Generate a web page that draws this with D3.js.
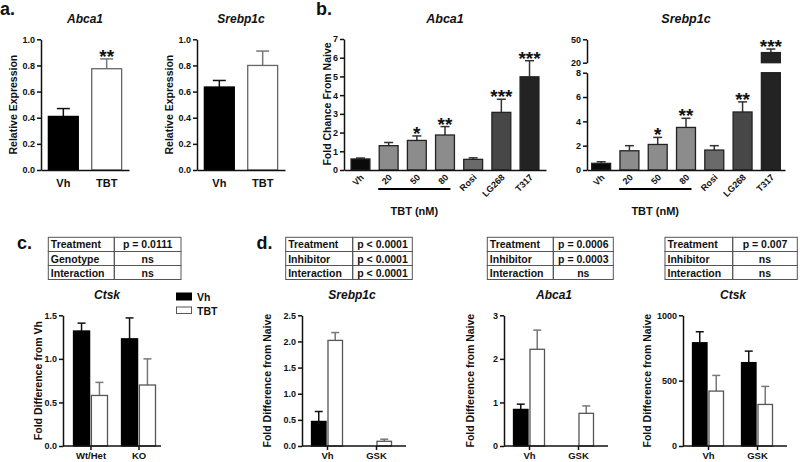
<!DOCTYPE html>
<html><head><meta charset="utf-8">
<script src="https://cdn.jsdelivr.net/npm/d3@7"></script>
<style>
body{margin:0;background:#fff;}
svg{display:block;}
</style></head><body>
<svg id="chart" width="800" height="462"></svg>
<script>
// ---------------- DATA ----------------
// Panel a
const aCategories = ["Vh", "TBT"];
const aTicks = [0, 0.2, 0.4, 0.6, 0.8, 1.0];
const aAbca1Mean = [0.41, 0.775];
const aAbca1Err = [0.06, 0.075];
const aAbca1Sig = ["", "**"];
const aSrebp1cMean = [0.635, 0.80];
const aSrebp1cErr = [0.05, 0.11];
const aSrebp1cSig = ["", ""];

// Panel b
const bCategories = ["Vh", "20", "50", "80", "Rosi", "LG268", "T317"];
const bTBTDoses = ["20", "50", "80"];
const bAbca1Ticks = [0, 1, 2, 3, 4, 5, 6, 7];
const bAbca1Mean = [0.59, 1.30, 1.58, 1.87, 0.57, 3.08, 4.98];
const bAbca1Err = [0.05, 0.17, 0.24, 0.45, 0.08, 0.70, 0.86];
const bAbca1Sig = ["", "", "*", "**", "", "***", "***"];
const bSrebp1cLowTicks = [0, 2, 4, 6, 8];
const bSrebp1cHighTicks = [20, 50];
const bSrebp1cMean = [0.55, 1.58, 2.1, 3.5, 1.64, 4.77, 33];
const bSrebp1cErr = [0.13, 0.42, 0.58, 0.75, 0.36, 0.83, 4.5];
const bSrebp1cSig = ["", "", "*", "**", "", "**", "***"];

// Panel c
const groupSeries = ["Vh", "TBT"];
const cGroups = ["Wt/Het", "KO"];
const cTicks = [0, 0.5, 1.0, 1.5];
const cCtskVh = [1.32, 1.23];
const cCtskVhErr = [0.09, 0.24];
const cCtskTBT = [0.58, 0.70];
const cCtskTBTErr = [0.15, 0.30];
const cStats = [["Treatment", "p = 0.0111"], ["Genotype", "ns"], ["Interaction", "ns"]];

// Panel d
const dGroups = ["Vh", "GSK"];
const dSrebp1cTicks = [0, 0.5, 1.0, 1.5, 2.0, 2.5];
const dSrebp1cVh = [0.47, 0];
const dSrebp1cVhErr = [0.19, 0];
const dSrebp1cTBT = [2.02, 0.09];
const dSrebp1cTBTErr = [0.15, 0.04];
const dSrebp1cStats = [["Treatment", "p < 0.0001"], ["Inhibitor", "p < 0.0001"], ["Interaction", "p < 0.0001"]];
const dAbca1Ticks = [0, 1, 2, 3];
const dAbca1Vh = [0.84, 0];
const dAbca1VhErr = [0.12, 0];
const dAbca1TBT = [2.22, 0.75];
const dAbca1TBTErr = [0.44, 0.17];
const dAbca1Stats = [["Treatment", "p = 0.0006"], ["Inhibitor", "p = 0.0003"], ["Interaction", "ns"]];
const dCtskTicks = [0, 500, 1000];
const dCtskVh = [790, 638];
const dCtskVhErr = [84, 88];
const dCtskTBT = [420, 318];
const dCtskTBTErr = [120, 138];
const dCtskStats = [["Treatment", "p = 0.007"], ["Inhibitor", "ns"], ["Interaction", "ns"]];

// ---------------- DRAWING ----------------
const svg = d3.select("#chart");
const FONT = "'Liberation Sans', Arial, Helvetica, sans-serif";
const AX = "#111";

function txt(x, y, s, size, o = {}) {
  const t = svg.append("text").attr("x", x).attr("y", y).text(s)
    .attr("font-size", size).attr("font-weight", "bold").attr("font-family", FONT)
    .attr("fill", o.fill || "#111").attr("text-anchor", o.anchor || "start");
  if (o.italic) t.attr("font-style", "italic");
  return t;
}
function yLabel(x, y, s) {
  svg.append("text").attr("transform", `translate(${x},${y}) rotate(-90)`).attr("dy", "0.35em")
    .attr("text-anchor", "middle").attr("font-size", 10.5).attr("font-weight", "bold")
    .attr("font-family", FONT).attr("fill", "#111").text(s);
}
function styleAxis(ax, size = 9) {
  ax.selectAll("path, line").attr("stroke", AX).attr("stroke-width", 1.5);
  ax.selectAll("text").attr("font-size", size).attr("font-weight", "bold")
    .attr("fill", "#111").attr("font-family", FONT);
}
function yAxis(x0, y, ticks, fmt) {
  const ax = svg.append("g").attr("transform", `translate(${x0},0)`)
    .call(d3.axisLeft(y).tickValues(ticks).tickFormat(fmt).tickSize(4).tickSizeOuter(0).tickPadding(2));
  styleAxis(ax);
  return ax;
}
function hLine(x1, x2, y, w = 1.5, c = AX) {
  svg.append("line").attr("x1", x1).attr("x2", x2).attr("y1", y).attr("y2", y)
    .attr("stroke", c).attr("stroke-width", w);
}
function errorBar(cx, yVal, yErr, cap, color) {
  svg.append("line").attr("x1", cx).attr("x2", cx).attr("y1", yVal).attr("y2", yErr)
    .attr("stroke", color).attr("stroke-width", 1.5);
  hLine(cx - cap / 2, cx + cap / 2, yErr, 1.5, color);
}
function bar(x, yTop, w, h, fill, stroke) {
  svg.append("rect").attr("x", x).attr("y", yTop).attr("width", w).attr("height", Math.max(0, h))
    .attr("fill", fill).attr("stroke", stroke).attr("stroke-width", 1.3);
}
function stars(cx, yErr, s) { if (s) txt(cx, yErr + 4, s, 19, { anchor: "middle" }); }

// ----- Panel a -----
function panelA(x0, x1, title, mean, err, sig) {
  const y = d3.scaleLinear().domain([0, 1]).range([170, 39.3]);
  const x = d3.scaleBand().domain(aCategories).range([x0, x1]).paddingInner(0.31).paddingOuter(0.17);
  aCategories.forEach((c, i) => {
    const cx = x(c) + x.bandwidth() / 2;
    const white = i === 1;
    errorBar(cx, y(mean[i]), y(mean[i] + err[i]), 13, white ? "#777" : "#111");
    bar(x(c), y(mean[i]), x.bandwidth(), y(0) - y(mean[i]), white ? "#fff" : "#000", white ? "#666" : "#000");
    stars(cx, y(mean[i] + err[i]), sig[i]);
  });
  yAxis(x0, y, aTicks, d3.format(".1f"));
  const xa = svg.append("g").attr("transform", `translate(0,${y(0)})`)
    .call(d3.axisBottom(x).tickSize(0).tickSizeOuter(0).tickPadding(9));
  styleAxis(xa, 11);
  txt((x0 + x1) / 2, 23, title, 12, { anchor: "middle", italic: true });
  yLabel(x0 - 28, (y(0) + y(1)) / 2, "Relative Expression");
}
panelA(41, 129, "Abca1", aAbca1Mean, aAbca1Err, aAbca1Sig);
panelA(197, 285, "Srebp1c", aSrebp1cMean, aSrebp1cErr, aSrebp1cSig);
txt(0, 15, "a.", 18);

// ----- Panel b -----
const bColor = d3.scaleOrdinal().domain(bCategories)
  .range(["#0a0a0a", "#8c8c8c", "#8c8c8c", "#8c8c8c", "#6a6a6a", "#474747", "#232323"]);
function panelB(x0, x1, po, title, mean, err, sig, broken) {
  let yLow, yUp = null;
  if (broken) {
    yLow = d3.scaleLinear().domain([0, 8]).range([170, 72.7]);
    yUp = d3.scaleLinear().domain([20, 50]).range([62.7, 39.3]);
  } else {
    yLow = d3.scaleLinear().domain([0, 7]).range([170, 39]);
  }
  const lowMax = yLow.domain()[1];
  const yv = v => (yUp && v > lowMax) ? yUp(v) : yLow(v);
  const x = d3.scaleBand().domain(bCategories).range([x0, x1]).paddingInner(0.33).paddingOuter(po);
  const bw = x.bandwidth();
  bCategories.forEach((c, i) => {
    const cx = x(c) + bw / 2;
    const top = mean[i] + err[i];
    errorBar(cx, yv(mean[i]), yv(top), 9, "#333");
    if (yUp && mean[i] > lowMax) {
      bar(x(c), yLow(lowMax), bw, yLow(0) - yLow(lowMax), bColor(c), "#222");
      bar(x(c), yUp(mean[i]), bw, yUp(yUp.domain()[0]) - yUp(mean[i]), bColor(c), "#222");
    } else {
      bar(x(c), yLow(mean[i]), bw, yLow(0) - yLow(mean[i]), bColor(c), "#222");
    }
    stars(cx, yv(top), sig[i]);
  });
  if (broken) {
    yAxis(x0, yLow, bSrebp1cLowTicks, d3.format("d"));
    yAxis(x0, yUp, bSrebp1cHighTicks, d3.format("d"));
  } else {
    yAxis(x0, yLow, bAbca1Ticks, d3.format("d"));
  }
  const xa = svg.append("g").attr("transform", `translate(0,${yLow(0)})`)
    .call(d3.axisBottom(x).tickSize(0).tickSizeOuter(0));
  styleAxis(xa, 9);
  xa.selectAll(".tick text").attr("x", 0).attr("y", 0).attr("dy", 0)
    .attr("text-anchor", "end").attr("transform", "translate(4,8) rotate(-45)");
  // TBT dose bracket
  const lx1 = x(bTBTDoses[0]) - 1, lx2 = x(bTBTDoses[bTBTDoses.length - 1]) + bw - 4;
  hLine(lx1, lx2, 189, 2, "#000");
  txt((lx1 + lx2) / 2, 215, "TBT (nM)", 11, { anchor: "middle" });
  txt((x0 + x1) / 2, 23, title, 12.5, { anchor: "middle", italic: true });
}
panelB(344, 546, 0.25, "Abca1", bAbca1Mean, bAbca1Err, bAbca1Sig, false);
yLabel(327, 104, "Fold Chance From Naive");
panelB(587, 785, 0.165, "Srebp1c", bSrebp1cMean, bSrebp1cErr, bSrebp1cSig, true);
txt(316, 15, "b.", 18);

// ----- Tables -----
function drawTable(x, split, end, rows) {
  const ys = [237.3, 251.5, 265.5, 279.5];
  const g = svg.append("g");
  rows.forEach((r, i) => {
    g.append("rect").attr("x", x).attr("y", ys[i]).attr("width", split - x).attr("height", ys[i + 1] - ys[i])
      .attr("fill", "none").attr("stroke", "#555").attr("stroke-width", 1);
    g.append("rect").attr("x", split).attr("y", ys[i]).attr("width", end - split).attr("height", ys[i + 1] - ys[i])
      .attr("fill", "none").attr("stroke", "#555").attr("stroke-width", 1);
    txt(x + 2.5, ys[i] + 11, r[0], 10.5);
    txt((split + end) / 2, ys[i] + 11, r[1], 10.5, { anchor: "middle" });
  });
}

// ----- Grouped panels (c, d) -----
function panelGrouped(o) {
  const y = d3.scaleLinear().domain([0, o.ticks[o.ticks.length - 1]]).range([446, 315.3]);
  const gx = d3.scaleBand().domain(o.groups).range([o.x0 + o.gStart, o.x0 + o.gEnd]);
  const gw = gx.bandwidth();
  const ix = d3.scaleBand().domain(groupSeries).range([gw / 2 - o.half - 1, gw / 2 + o.half]).paddingInner(o.pi);
  const series = [
    { key: "Vh", m: o.vh, e: o.vhErr, fill: "#000", stroke: "#000", ec: "#111" },
    { key: "TBT", m: o.tbt, e: o.tbtErr, fill: "#fff", stroke: "#555", ec: "#777" }
  ];
  o.groups.forEach((g, gi) => {
    series.forEach(s => {
      if (!(s.m[gi] > 0)) return;
      const bx = gx(g) + ix(s.key), bw = ix.bandwidth();
      const cx = bx + bw / 2;
      errorBar(cx, y(s.m[gi]), y(s.m[gi] + s.e[gi]), 8, s.ec);
      bar(bx, y(s.m[gi]), bw, y(0) - y(s.m[gi]), s.fill, s.stroke);
    });
  });
  yAxis(o.x0, y, o.ticks, o.fmt);
  const xa = svg.append("g").attr("transform", `translate(0,${y(0)})`)
    .call(d3.axisBottom(gx).tickSize(4).tickSizeOuter(0).tickPadding(2));
  xa.select(".domain").remove();
  styleAxis(xa, 9.5);
  hLine(o.x0, o.x0 + o.axisEnd, y(0));
  txt(o.x0 + o.titleDx, 299, o.title, 12, { anchor: "middle", italic: true });
  yLabel(o.x0 - o.ylabDx, (y(0) + y(o.ticks[o.ticks.length - 1])) / 2, o.ylab);
}

// Panel c
drawTable(48.3, 114.3, 181, cStats);
txt(17, 249, "c.", 18);
panelGrouped({
  x0: 63, groups: cGroups, ticks: cTicks, fmt: d3.format(".1f"),
  vh: cCtskVh, vhErr: cCtskVhErr, tbt: cCtskTBT, tbtErr: cCtskTBTErr,
  gStart: 4, gEnd: 100, half: 16.5, pi: 0.1, axisEnd: 98,
  title: "Ctsk", titleDx: 44, ylab: "Fold Difference from Vh", ylabDx: 25
});
// legend
svg.append("rect").attr("x", 176.5).attr("y", 293).attr("width", 15).attr("height", 7)
  .attr("fill", "#000").attr("stroke", "#000");
svg.append("rect").attr("x", 176.5).attr("y", 307).attr("width", 15).attr("height", 6.5)
  .attr("fill", "#fff").attr("stroke", "#555");
txt(197, 300.5, groupSeries[0], 10.5);
txt(197, 314.5, groupSeries[1], 10.5);

// Panel d
txt(256.5, 249, "d.", 18);
drawTable(285.7, 352.7, 412.3, dSrebp1cStats);
drawTable(487.3, 553.3, 613.3, dAbca1Stats);
drawTable(665, 732.7, 797.3, dCtskStats);
const dCommon = { groups: dGroups, gStart: 1, gEnd: 99, half: 15, pi: 0.12, axisEnd: 104, titleDx: 50,
  ylab: "Fold Difference from Naive", ylabDx: 35 };
panelGrouped(Object.assign({}, dCommon, {
  x0: 302, ticks: dSrebp1cTicks, fmt: d3.format(".1f"),
  vh: dSrebp1cVh, vhErr: dSrebp1cVhErr, tbt: dSrebp1cTBT, tbtErr: dSrebp1cTBTErr, title: "Srebp1c"
}));
panelGrouped(Object.assign({}, dCommon, {
  x0: 504, ticks: dAbca1Ticks, fmt: d3.format("d"),
  vh: dAbca1Vh, vhErr: dAbca1VhErr, tbt: dAbca1TBT, tbtErr: dAbca1TBTErr, title: "Abca1", ylabDx: 34
}));
panelGrouped(Object.assign({}, dCommon, {
  x0: 683, ticks: dCtskTicks, fmt: d3.format("d"),
  vh: dCtskVh, vhErr: dCtskVhErr, tbt: dCtskTBT, tbtErr: dCtskTBTErr, title: "Ctsk", ylabDx: 36
}));
</script></body></html>
